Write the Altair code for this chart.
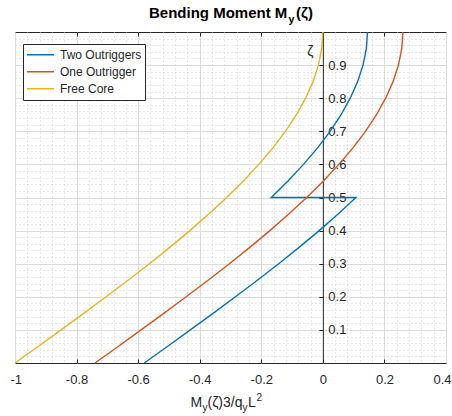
import altair as alt
import pandas as pd

# Height coordinate along the core (zeta = z/L)
zeta = [0.0, 0.05, 0.1, 0.15, 0.2, 0.25, 0.3, 0.35, 0.4, 0.45, 0.5,
        0.55, 0.6, 0.65, 0.7, 0.75, 0.8, 0.85, 0.9, 0.95, 1.0]

# Normalised bending moment M_y(zeta)*3/(q_y L^2)
free_core = [-1.0, -0.925, -0.8505, -0.7767, -0.704, -0.6328, -0.5635, -0.4964,
             -0.432, -0.3706, -0.3125, -0.2582, -0.208, -0.1623, -0.1215,
             -0.0859, -0.056, -0.0321, -0.0145, -0.0037, 0.0]
one_outrigger = [-0.74, -0.665, -0.5905, -0.5167, -0.444, -0.3728, -0.3035, -0.2364,
                 -0.172, -0.1106, -0.0525, 0.0018, 0.052, 0.0977, 0.1385,
                 0.1741, 0.204, 0.2279, 0.2455, 0.2563, 0.26]
# two outriggers: below and above the mid-height outrigger (jump at zeta = 0.5)
two_lower = [-0.58, -0.505, -0.4305, -0.3567, -0.284, -0.2128, -0.1435, -0.0764,
             -0.012, 0.0494, 0.1075]
two_upper = [-0.1675, -0.1132, -0.063, -0.0173, 0.0235, 0.0591, 0.089, 0.1129,
             0.1305, 0.1413, 0.145]

series_names = ["Two Outriggers", "One Outrigger", "Free Core"]
series_colors = ["#0072BD", "#D95319", "#EDB120"]

x_major = [-1, -0.8, -0.6, -0.4, -0.2, 0, 0.2, 0.4]
x_inner = [-0.8, -0.6, -0.4, -0.2, 0, 0.2]
y_major = [0.1, 0.2, 0.3, 0.4, 0.5, 0.6, 0.7, 0.8, 0.9]
x_minor = [round(-1 + 0.04 * i, 2) for i in range(1, 35) if i % 5]
y_minor = [round(0.02 * i, 2) for i in range(1, 50) if i % 5]

W, H = 431, 331
X0, X1 = -1.0, 0.4
ORIGIN_X = (0 - X0) / (X1 - X0) * W   # pixel position of x = 0

FONT = "Liberation Sans"
INK = "#262626"
# tick labels with a plain hyphen as minus sign
PLAIN_MINUS = "datum.value < 0 ? '-' + format(-datum.value, '~g') : format(datum.value, '~g')"

rows = []
for name, zs, ms in [
    ("Two Outriggers", zeta[:11] + zeta[10:], two_lower + two_upper),
    ("One Outrigger", zeta, one_outrigger),
    ("Free Core", zeta, free_core),
]:
    for i, (z, m) in enumerate(zip(zs, ms)):
        rows.append({"series": name, "zeta": z, "m": m, "idx": i})
df = pd.DataFrame(rows)

xs = alt.Scale(domain=[X0, X1], nice=False, zero=False)
ys = alt.Scale(domain=[0, 1], nice=False, zero=False)

base = alt.Chart(df)


def quiet_axis(**kw):
    opts = dict(labels=False, ticks=False, domain=False, grid=False, title=None)
    opts.update(kw)
    return alt.Axis(**opts)


# dotted minor grid
minor = base.mark_line(opacity=0).encode(
    x=alt.X("m:Q", scale=xs, axis=quiet_axis(orient="bottom", values=x_minor, grid=True,
                                             gridDash=[1, 3], gridColor="#cdcdcd")),
    y=alt.Y("zeta:Q", scale=ys, axis=quiet_axis(orient="left", values=y_minor, grid=True,
                                                gridDash=[1, 3], gridColor="#cdcdcd")),
    detail="series:N",
)

# solid major grid and x tick labels
major = base.mark_line(opacity=0).encode(
    x=alt.X("m:Q", scale=xs, axis=quiet_axis(
        orient="bottom", values=x_major, grid=True, gridColor="#dcdcdc",
        labels=True, labelFontSize=13, labelFont=FONT, labelColor=INK,
        labelPadding=10, labelFlush=True, labelFlushOffset=5,
        labelOverlap=False, labelBound=False, labelExpr=PLAIN_MINUS)),
    y=alt.Y("zeta:Q", scale=ys, axis=quiet_axis(orient="left", values=y_major, grid=True,
                                                gridColor="#dcdcdc")),
    detail="series:N",
)

# inward ticks on the bottom edge; y axis line and labels at x = 0
ticks_a = base.mark_line(opacity=0).encode(
    x=alt.X("m:Q", scale=xs, axis=quiet_axis(orient="top", offset=-H, values=x_inner,
                                             ticks=True, tickSize=4, tickColor=INK)),
    y=alt.Y("zeta:Q", scale=ys, axis=quiet_axis(
        orient="right", offset=-(W - ORIGIN_X), values=y_major, domain=True,
        domainColor=INK, labels=True, labelFontSize=13, labelFont=FONT,
        labelColor=INK, labelPadding=5, labelAlign="left", format="~g")),
    detail="series:N",
)

# inward ticks on the top edge; y ticks and the zeta label at x = 0
ticks_b = base.mark_line(opacity=0).encode(
    x=alt.X("m:Q", scale=xs, axis=quiet_axis(orient="bottom", offset=-H, values=x_inner,
                                             ticks=True, tickSize=4, tickColor=INK)),
    y=alt.Y("zeta:Q", scale=ys, axis=quiet_axis(
        orient="left", offset=-ORIGIN_X, values=y_major, ticks=True, tickSize=4,
        tickColor=INK, title="ζ", titleAngle=0, titleX=-13, titleY=19,
        titleAlign="center", titleBaseline="middle", titleFontSize=14,
        titleFontWeight="normal", titleFont=FONT, titleColor=INK)),
    detail="series:N",
)

lines = base.mark_line(strokeWidth=1.4).encode(
    x=alt.X("m:Q", scale=xs, axis=None),
    y=alt.Y("zeta:Q", scale=ys, axis=None),
    color=alt.Color("series:N", scale=alt.Scale(domain=series_names, range=series_colors),
                    legend=alt.Legend(
                        orient="none", legendX=8, legendY=12, title=None,
                        symbolType="stroke", symbolSize=729, symbolStrokeWidth=1.4,
                        clipHeight=15.5, rowPadding=1, labelOffset=5, padding=3,
                        labelFontSize=12, labelFont=FONT, labelColor=INK, labelLimit=200,
                        strokeColor=INK, fillColor="white")),
    order="idx:Q",
)


def label(text, x, y, size, weight="normal"):
    return alt.Chart(alt.Data(values=[{}])).mark_text(
        text=text, align="left", baseline="alphabetic", font=FONT,
        fontSize=size, fontWeight=weight, color=INK if weight == "normal" else "#000000",
    ).encode(x=alt.value(x), y=alt.value(y))


title_parts = [
    label("Bending Moment M", 134, -13.7, 15, "bold"),
    label("y", 273.5, -9.5, 10.5, "bold"),
    label("(ζ)", 281, -13.7, 15, "bold"),
]
xtitle_parts = [
    label("M", 175.5, 374.5, 14),
    label("y", 187.5, 378.5, 10),
    label("(ζ)3/q", 192.5, 374.5, 14),
    label("y", 227.5, 378.5, 10),
    label("L", 233, 374.5, 14),
    label("2", 241.5, 369, 10),
]

chart = alt.layer(minor, major, ticks_a, ticks_b, lines, *title_parts, *xtitle_parts).resolve_axis(
    x="independent", y="independent"
).properties(
    width=W, height=H,
    autosize=alt.AutoSizeParams(type="none"),
    padding={"left": 15, "top": 32, "right": 6, "bottom": 53},
    background="white",
).configure_view(stroke=INK, strokeWidth=1)

chart.save("out.html", embed_options={"renderer": "svg", "actions": False})
